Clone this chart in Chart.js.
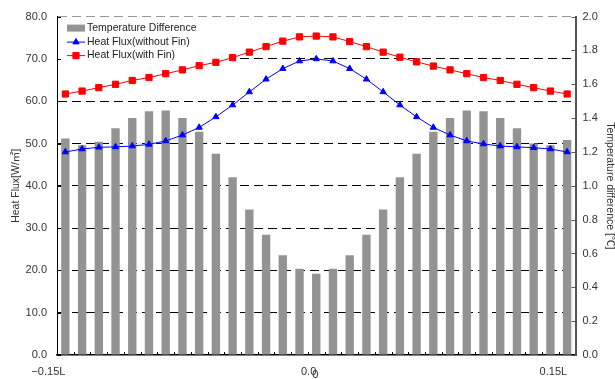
<!DOCTYPE html>
<html>
<head>
<meta charset="utf-8">
<script src="https://cdn.jsdelivr.net/npm/chart.js@4/dist/chart.umd.min.js"></script>
<style>
  html, body { margin: 0; padding: 0; background: #fff; }
  #wrap { width: 615px; height: 379px; }
</style>
</head>
<body>
<div id="wrap"><canvas id="c" width="615" height="379"></canvas></div>
<script>
// Measurement positions along the plate (fraction of L)
const positions = [-0.15, -0.14, -0.13, -0.12, -0.11, -0.10, -0.09, -0.08, -0.07, -0.06,
                   -0.05, -0.04, -0.03, -0.02, -0.01, 0.00, 0.01, 0.02, 0.03, 0.04,
                   0.05, 0.06, 0.07, 0.08, 0.09, 0.10, 0.11, 0.12, 0.13, 0.14, 0.15];

// Temperature difference [℃] (right axis)
const tempDiff = [1.28, 1.24, 1.26, 1.34, 1.40, 1.44, 1.445, 1.40, 1.32, 1.19,
                  1.05, 0.86, 0.71, 0.59, 0.51, 0.48, 0.51, 0.59, 0.71, 0.86,
                  1.05, 1.19, 1.32, 1.40, 1.445, 1.44, 1.40, 1.34, 1.25, 1.24, 1.27];

// Heat flux without fin [W/㎡]
const fluxNoFin = [48.0, 48.7, 49.1, 49.2, 49.4, 49.8, 50.6, 52.0, 53.8, 56.3,
                   59.1, 62.2, 65.2, 67.7, 69.5, 70.0, 69.5, 67.7, 65.2, 62.2,
                   59.1, 56.3, 53.8, 52.0, 50.6, 49.9, 49.4, 49.2, 49.0, 48.7, 48.0];

// Heat flux with fin [W/㎡]
const fluxFin = [61.7, 62.4, 63.2, 64.0, 64.9, 65.6, 66.5, 67.4, 68.4, 69.2,
                 70.3, 71.6, 72.9, 74.2, 75.2, 75.4, 75.2, 74.1, 72.9, 71.6,
                 70.4, 69.3, 68.3, 67.4, 66.5, 65.6, 64.9, 64.0, 63.2, 62.4, 61.7];

// Labelled positions on the x axis
const xTickText = { '-0.15': '\u22120.15L', '0': '0.0', '0.15': '0.15L' };

const seriesNames = ['Temperature Difference', 'Heat Flux(without Fin)', 'Heat Flux(with Fin)'];

const FONT = '"Liberation Sans", Arial, "Noto Sans CJK KR", sans-serif';
const BAR_GRAY = '#939393';

// Inward tick marks on all three axes, plus the small extra "0" under the centre label
const innerTicks = {
  id: 'innerTicks',
  afterDraw(chart) {
    const ctx = chart.ctx;
    const x = chart.scales.x, y = chart.scales.y, y1 = chart.scales.y1;
    const area = chart.chartArea;
    ctx.save();
    ctx.lineWidth = 1;
    ctx.strokeStyle = '#000';
    y.ticks.forEach(t => {
      const py = Math.round(y.getPixelForValue(t.value)) + 0.5;
      ctx.beginPath(); ctx.moveTo(area.left, py); ctx.lineTo(area.left + 4, py); ctx.stroke();
    });
    ctx.strokeStyle = '#555';
    y1.ticks.forEach(t => {
      const py = Math.round(y1.getPixelForValue(t.value)) + 0.5;
      ctx.beginPath(); ctx.moveTo(area.right - 4, py); ctx.lineTo(area.right, py); ctx.stroke();
    });
    ctx.strokeStyle = '#000';
    const step = x.getPixelForValue(1) - x.getPixelForValue(0);
    for (let i = 1; i < positions.length; i++) {
      const px = Math.round(x.getPixelForValue(i) - step / 2) + 0.5;
      ctx.beginPath(); ctx.moveTo(px, area.bottom); ctx.lineTo(px, area.bottom - 3); ctx.stroke();
    }
    // small "0" offset beneath the centre label
    const ci = positions.indexOf(0);
    ctx.fillStyle = '#333';
    ctx.font = '11px ' + FONT;
    ctx.textAlign = 'center';
    ctx.textBaseline = 'middle';
    ctx.fillText('0', x.getPixelForValue(ci) - 1, area.bottom + 19.5);
    ctx.restore();
  }
};

// Legend drawn inside the plot area, over the grid but beneath the data
const innerLegend = {
  id: 'innerLegend',
  beforeDatasetsDraw(chart) {
    const ctx = chart.ctx;
    const area = chart.chartArea;
    const ds = chart.data.datasets;
    ctx.save();
    ctx.fillStyle = '#fff';
    ctx.fillRect(area.left + 1, area.top + 1, 174, 44);
    const x0 = area.left + 10, x1 = area.left + 27, tx = area.left + 30;
    const rows = [area.top + 11.5, area.top + 25, area.top + 38.5];
    // bar swatch
    ctx.fillStyle = BAR_GRAY;
    ctx.fillRect(x0, rows[0] - 3.5, x1 - x0 + 1, 7);
    // line swatches with markers
    [1, 2].forEach((k) => {
      const d = ds[k];
      const yy = rows[k];
      ctx.strokeStyle = d.borderColor;
      ctx.lineWidth = 1;
      ctx.beginPath(); ctx.moveTo(x0, yy + 0.5); ctx.lineTo(x1 + 1, yy + 0.5); ctx.stroke();
      ctx.fillStyle = d.pointBackgroundColor;
      ctx.strokeStyle = d.pointBorderColor;
      Chart.helpers.drawPoint(ctx, {
        pointStyle: d.pointStyle, radius: d.pointRadius, rotation: 0, borderWidth: 1
      }, (x0 + x1 + 1) / 2, yy + 0.5);
    });
    ctx.fillStyle = '#222';
    ctx.font = '10.5px ' + FONT;
    ctx.textAlign = 'left';
    ctx.textBaseline = 'middle';
    seriesNames.forEach((n, i) => ctx.fillText(n, tx, rows[i] + 0.5));
    ctx.restore();
  }
};

new Chart(document.getElementById('c'), {
  type: 'bar',
  data: {
    labels: positions,
    datasets: [
      {
        label: seriesNames[0],
        data: tempDiff,
        yAxisID: 'y1',
        backgroundColor: BAR_GRAY,
        borderWidth: 0,
        barPercentage: 0.5,
        categoryPercentage: 1.0,
        order: 2
      },
      {
        type: 'line',
        label: seriesNames[1],
        data: fluxNoFin,
        yAxisID: 'y',
        borderColor: '#0000ff',
        borderWidth: 1,
        pointStyle: 'triangle',
        pointRadius: 3.6,
        pointBackgroundColor: '#0000ff',
        pointBorderColor: '#0000ff',
        pointBorderWidth: 1,
        tension: 0,
        order: 1
      },
      {
        type: 'line',
        label: seriesNames[2],
        data: fluxFin,
        yAxisID: 'y',
        borderColor: '#ff0000',
        borderWidth: 1,
        pointStyle: 'rect',
        pointRadius: 4.4,
        pointBackgroundColor: '#ff0000',
        pointBorderColor: '#ff0000',
        pointBorderWidth: 1,
        tension: 0,
        order: 1
      }
    ]
  },
  options: {
    responsive: false,
    animation: false,
    events: [],
    layout: { padding: { top: 14, left: 0, right: 0, bottom: 0 } },
    plugins: {
      legend: { display: false },
      tooltip: { enabled: false }
    },
    scales: {
      x: {
        type: 'category',
        offset: true,
        grid: { display: false, drawTicks: false },
        border: { display: true, color: '#000', width: 1.5 },
        ticks: {
          autoSkip: false,
          maxRotation: 0,
          align: 'end',
          padding: 10,
          color: '#333',
          font: { family: FONT, size: 11 },
          callback: function (v, i) {
            const key = String(positions[i]);
            return xTickText[key] || '';
          }
        },
        afterFit(s) { s.height = 24; }
      },
      y: {
        position: 'left',
        min: 0, max: 80,
        grid: {
          drawTicks: false,
          lineWidth: 1,
          color: (c) => c.tick.value === 80 ? '#999' : (c.tick.value === 0 ? 'rgba(0,0,0,0)' : '#000')
        },
        border: { display: true, color: '#000', width: 1, dash: [9, 5] },
        ticks: {
          stepSize: 10,
          padding: 10,
          color: '#333',
          font: { family: FONT, size: 11 },
          callback: (v) => Number(v).toFixed(1)
        },
        title: {
          display: true,
          text: 'Heat Flux[W/㎡]',
          color: '#333',
          font: { family: FONT, size: 10.5, lineHeight: 1 },
          padding: { top: 11, bottom: 0 }
        },
        afterFit(s) { s.width = 57; }
      },
      y1: {
        position: 'right',
        min: 0, max: 2,
        grid: { drawOnChartArea: false, drawTicks: false },
        border: { display: true, color: '#555', width: 2 },
        ticks: {
          stepSize: 0.2,
          padding: 7,
          color: '#333',
          font: { family: FONT, size: 11 },
          callback: (v) => Number(v).toFixed(1)
        },
        title: {
          display: true,
          text: 'Temperature difference [℃]',
          color: '#333',
          font: { family: FONT, size: 10.5, lineHeight: 1 },
          padding: { top: 0, bottom: 0 }
        },
        afterFit(s) { s.width = 39.5; }
      }
    }
  },
  plugins: [innerLegend, innerTicks]
});
</script>
</body>
</html>
